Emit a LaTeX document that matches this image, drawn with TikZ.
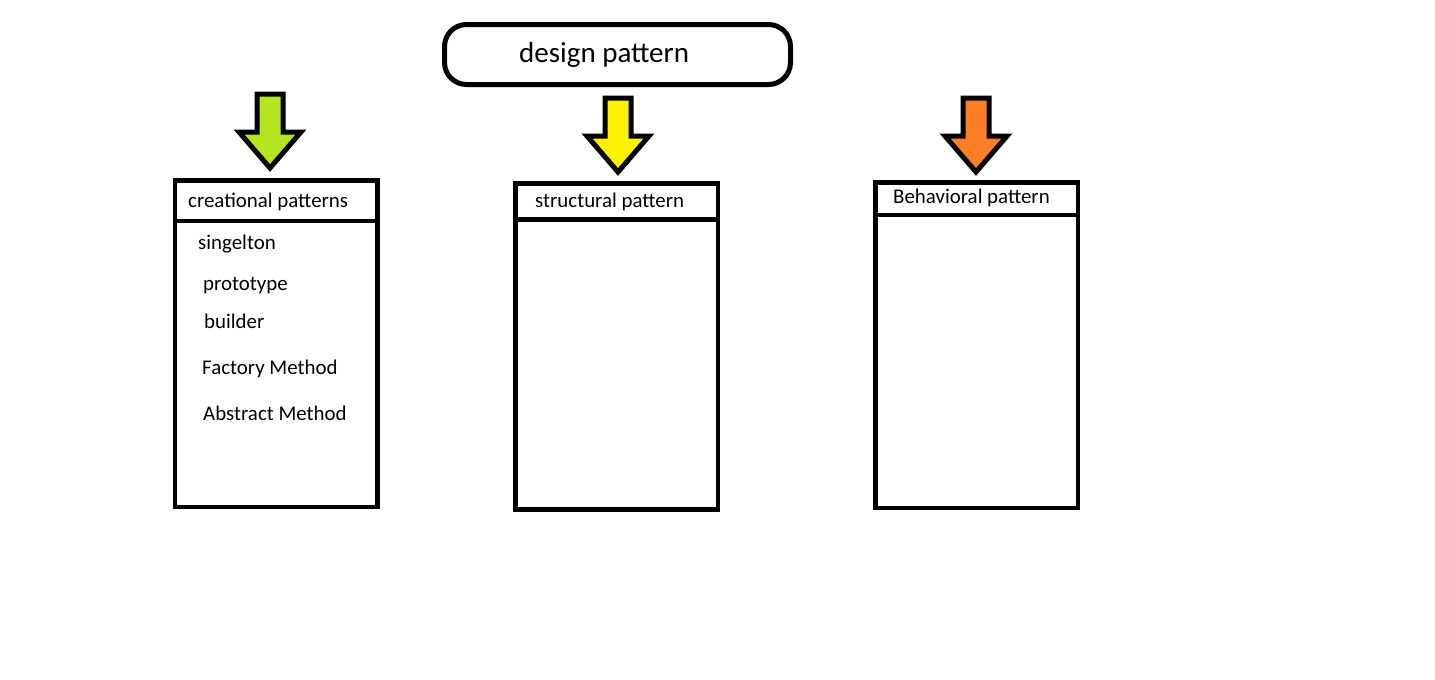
\documentclass[tikz,border=0pt]{standalone}
\usepackage{fontspec}
\setmainfont{Carlito}
\usetikzlibrary{positioning}

\definecolor{paintlime}{RGB}{181,230,29}
\definecolor{paintyellow}{RGB}{255,242,0}
\definecolor{paintorange}{RGB}{255,127,39}

\tikzset{
  patbox/.style={draw, line width=4.8pt, minimum width=202.5pt, inner sep=0, outer sep=0},
  headbox/.style={patbox, anchor=north west},
  bodybox/.style={patbox, below=0pt of #1},
  titletext/.style={anchor=base west, inner sep=0, font=\fontsize{29}{34}\selectfont},
  itemtext/.style={anchor=base west, inner sep=0, font=\fontsize{20.9}{25}\selectfont},
  patarrow/.style={draw, line width=5pt, line join=miter}
}

\begin{document}
\begin{tikzpicture}[x=1pt, y=-1pt]
        \useasboundingbox[fill=white] (0,0) rectangle (1435,680);

        % top box
        \node [draw, line width=5pt, rounded corners=22pt, minimum width=346pt, minimum height=60pt, inner sep=0, outer sep=0] (design) at (617.5,54.5) {};
        \node [titletext] (designtext) at (519,62) {design pattern};

        % the three columns
        \node [headbox, minimum height=40.5pt] (creahead) at (175,180.5) {};
        \node [bodybox=creahead, minimum height=286pt] (creabody) {};
        \node [headbox, minimum height=36pt] (structhead) at (515.5,183.5) {};
        \node [bodybox=structhead, minimum height=290pt] (structbody) {};
        \node [headbox, minimum height=32.5pt] (behavhead) at (875.5,182.5) {};
        \node [bodybox=behavhead, minimum height=293pt] (behavbody) {};

        \node [itemtext] (creatext) at (188,207) {creational patterns};
        \node [itemtext] (structtext) at (535,207) {structural pattern};
        \node [itemtext] (behavtext) at (893,203) {Behavioral pattern};

        \node [itemtext] (singelton) at (198,249) {singelton};
        \node [itemtext] (prototype) at (203,290) {prototype};
        \node [itemtext] (builder) at (204,328) {builder};
        \node [itemtext] (factory) at (202,374) {Factory Method};
        \node [itemtext] (abstract) at (203,420) {Abstract Method};

        % arrows
        \foreach \x/\t/\c in {270/94/paintlime, 618/98/paintyellow, 976/98/paintorange}
                \draw [patarrow, fill=\c] (\x-13,\t) -- (\x+13,\t) -- (\x+13,\t+38) -- (\x+31,\t+38)
                        -- (\x,\t+74) -- (\x-31,\t+38) -- (\x-13,\t+38) -- cycle;
\end{tikzpicture}
\end{document}
